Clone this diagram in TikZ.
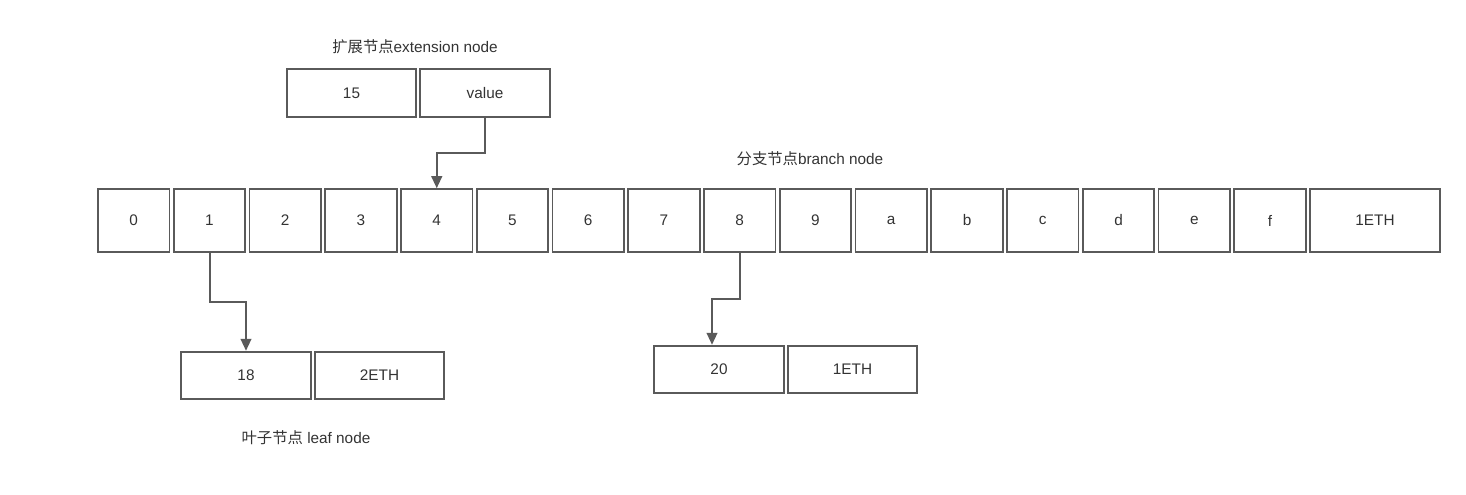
\documentclass[tikz,border=0pt]{standalone}
\usepackage{fontspec}
\setmainfont{Liberation Sans}
\newfontfamily\cjk{Noto Sans CJK SC}
\usetikzlibrary{arrows.meta}
\definecolor{edge}{HTML}{5A5A5A}
\definecolor{txt}{HTML}{333333}
\tikzset{
  box/.style={draw=edge, line width=1.4pt, inner sep=0pt, text=txt, font=\fontsize{11.5}{13}\selectfont},
  cell/.style={box, minimum width=53.7pt, minimum height=47pt},
  wcell/.style={box, minimum width=97.6pt, minimum height=47pt},
  pair/.style={box, minimum width=97.2pt, minimum height=35.7pt},
  lbl/.style={text=txt, font=\fontsize{11.5}{13}\selectfont, inner sep=0pt},
  arr/.style={draw=edge, line width=1.5pt, -{Triangle[length=9pt,width=8pt]}}
}
\begin{document}
\begin{tikzpicture}[x=0.75pt, y=-0.75pt]
\useasboundingbox (0,0) rectangle (1466,494);
% branch row
\foreach \l [count=\i from 0] in {0,1,2,3,4,5,6,7,8,9,a,b,c,d,e,f}{
  \node[cell] (c\i) at ({97+75.75*\i+36.75}, 220.5) {\l};
}
\node[wcell] (cETH) at (1375, 220.5) {1ETH};
\node[lbl] (blbl) at (810, 159) {{\cjk 分支节点}branch node};
% extension node
\node[pair] (n15) at (351.5, 93) {15};
\node[pair] (value) at (485, 93) {value};
\node[lbl] (elbl) at (415, 47) {{\cjk 扩展节点}extension node};
% leaf node
\node[pair] (n18) at (246, 375.5) {18};
\node[pair] (n2eth) at (379.5, 375.5) {2ETH};
\node[lbl] (llbl) at (306, 438) {{\cjk 叶子节点} leaf node};
% second leaf
\node[pair] (n20) at (719, 369.5) {20};
\node[pair] (n1eth) at (852.5, 369.5) {1ETH};
% connectors
\draw[arr] (value.south) -- ++(0,35) -| (c4.north);
\draw[arr] (c1.south) -- ++(0,49) -| (n18.north);
\draw[arr] (c8.south) -- ++(0,46) -| ([xshift=-5.25pt]n20.north);
\end{tikzpicture}
\end{document}
